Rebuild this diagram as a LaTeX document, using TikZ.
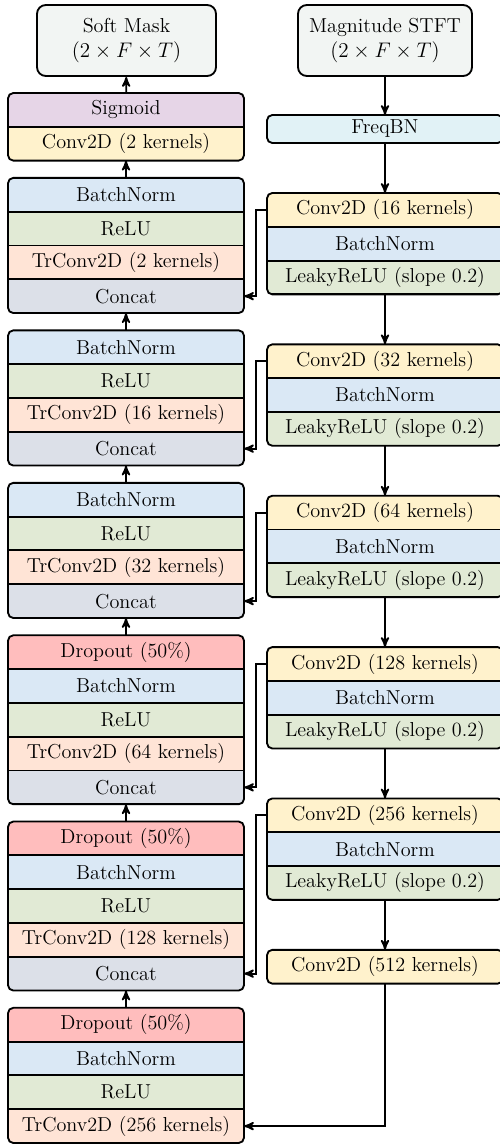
\documentclass[tikz,border=0pt]{standalone}
\usepackage{tikz}
\usetikzlibrary{arrows,positioning,fit,backgrounds}

\definecolor{maskgray}{HTML}{F2F5F3}
\definecolor{sigpurple}{HTML}{E6D5E7}
\definecolor{convyellow}{HTML}{FFF2CC}
\definecolor{bnblue}{HTML}{DAE8F5}
\definecolor{relugreen}{HTML}{E1EAD5}
\definecolor{trpeach}{HTML}{FFE4D6}
\definecolor{catgray}{HTML}{DCE0E8}
\definecolor{dropred}{HTML}{FFBDBD}
\definecolor{fbncyan}{HTML}{E1F2F6}

\begin{document}
\begin{tikzpicture}[x=0.02cm,y=-0.02cm,>=stealth',line width=1pt,
                    font=\fontsize{11.5}{14}\selectfont,node distance=0.346cm,
                    layerstack/.style={draw,line width=1.05pt,rounded corners=3pt,inner sep=0pt,
                      path picture={
                        \foreach \rw/\cl in {#1}
                          \fill[\cl,sharp corners] (\rw.north west) rectangle (\rw.south east);
                        \foreach \rw/\cl in {#1}
                          \draw[line width=1.05pt] (\rw.south west) -- (\rw.south east);}}]
\tikzstyle{row}=[minimum width=4.72cm,minimum height=0.676cm,inner sep=0pt,outer sep=0pt]
\tikzstyle{io}=[draw,line width=1.05pt,rounded corners=5pt,fill=maskgray,minimum height=1.42cm,
                align=center,inner sep=2pt]
\useasboundingbox (0,0) rectangle (500,1144);

% input / output
\node[io,minimum width=3.58cm] (mask) at (126.5,40.5) {Soft Mask\\$(2\times F\times T)$};
\node[io,minimum width=3.48cm] (mag) at (385,40.5) {Magnitude STFT\\$(2\times F\times T)$};

% decoder
\node[row] (d1a) at (126,109.9) {Sigmoid};
\node[row,below=0pt of d1a] (d1b) {Conv2D (2 kernels)};

\node[row,below=of d1b] (d2a) {BatchNorm};
\node[row,below=0pt of d2a] (d2b) {ReLU};
\node[row,below=0pt of d2b] (d2c) {TrConv2D (2 kernels)};
\node[row,below=0pt of d2c] (d2d) {Concat};

\node[row,below=of d2d] (d3a) {BatchNorm};
\node[row,below=0pt of d3a] (d3b) {ReLU};
\node[row,below=0pt of d3b] (d3c) {TrConv2D (16 kernels)};
\node[row,below=0pt of d3c] (d3d) {Concat};

\node[row,below=of d3d] (d4a) {BatchNorm};
\node[row,below=0pt of d4a] (d4b) {ReLU};
\node[row,below=0pt of d4b] (d4c) {TrConv2D (32 kernels)};
\node[row,below=0pt of d4c] (d4d) {Concat};

\node[row,below=of d4d] (d5a) {Dropout (50\%)};
\node[row,below=0pt of d5a] (d5b) {BatchNorm};
\node[row,below=0pt of d5b] (d5c) {ReLU};
\node[row,below=0pt of d5c] (d5d) {TrConv2D (64 kernels)};
\node[row,below=0pt of d5d] (d5e) {Concat};

\node[row,below=of d5e] (d6a) {Dropout (50\%)};
\node[row,below=0pt of d6a] (d6b) {BatchNorm};
\node[row,below=0pt of d6b] (d6c) {ReLU};
\node[row,below=0pt of d6c] (d6d) {TrConv2D (128 kernels)};
\node[row,below=0pt of d6d] (d6e) {Concat};

\node[row,below=of d6e] (d7a) {Dropout (50\%)};
\node[row,below=0pt of d7a] (d7b) {BatchNorm};
\node[row,below=0pt of d7b] (d7c) {ReLU};
\node[row,below=0pt of d7c] (d7d) {TrConv2D (256 kernels)};

% encoder
\node[row,minimum height=0.56cm] (fbn) at (385,129) {FreqBN};

\node[row,below=1cm of fbn] (e1a) {Conv2D (16 kernels)};
\node[row,below=0pt of e1a] (e1b) {BatchNorm};
\node[row,below=0pt of e1b] (e1c) {LeakyReLU (slope 0.2)};

\node[row,below=1cm of e1c] (e2a) {Conv2D (32 kernels)};
\node[row,below=0pt of e2a] (e2b) {BatchNorm};
\node[row,below=0pt of e2b] (e2c) {LeakyReLU (slope 0.2)};

\node[row,below=1cm of e2c] (e3a) {Conv2D (64 kernels)};
\node[row,below=0pt of e3a] (e3b) {BatchNorm};
\node[row,below=0pt of e3b] (e3c) {LeakyReLU (slope 0.2)};

\node[row,below=1cm of e3c] (e4a) {Conv2D (128 kernels)};
\node[row,below=0pt of e4a] (e4b) {BatchNorm};
\node[row,below=0pt of e4b] (e4c) {LeakyReLU (slope 0.2)};

\node[row,below=1cm of e4c] (e5a) {Conv2D (256 kernels)};
\node[row,below=0pt of e5a] (e5b) {BatchNorm};
\node[row,below=0pt of e5b] (e5c) {LeakyReLU (slope 0.2)};

\node[row,below=1cm of e5c] (e6) {Conv2D (512 kernels)};

% frames and fills
\begin{scope}[on background layer]
\node[layerstack={d1a/sigpurple,d1b/convyellow},fit=(d1a)(d1b)] (d1) {};
\node[layerstack={d2a/bnblue,d2b/relugreen,d2c/trpeach,d2d/catgray},fit=(d2a)(d2d)] (d2) {};
\node[layerstack={d3a/bnblue,d3b/relugreen,d3c/trpeach,d3d/catgray},fit=(d3a)(d3d)] (d3) {};
\node[layerstack={d4a/bnblue,d4b/relugreen,d4c/trpeach,d4d/catgray},fit=(d4a)(d4d)] (d4) {};
\node[layerstack={d5a/dropred,d5b/bnblue,d5c/relugreen,d5d/trpeach,d5e/catgray},fit=(d5a)(d5e)] (d5) {};
\node[layerstack={d6a/dropred,d6b/bnblue,d6c/relugreen,d6d/trpeach,d6e/catgray},fit=(d6a)(d6e)] (d6) {};
\node[layerstack={d7a/dropred,d7b/bnblue,d7c/relugreen,d7d/trpeach},fit=(d7a)(d7d)] (d7) {};
\node[layerstack={fbn/fbncyan},fit=(fbn)] (fbnbox) {};
\node[layerstack={e1a/convyellow,e1b/bnblue,e1c/relugreen},fit=(e1a)(e1c)] (e1) {};
\node[layerstack={e2a/convyellow,e2b/bnblue,e2c/relugreen},fit=(e2a)(e2c)] (e2) {};
\node[layerstack={e3a/convyellow,e3b/bnblue,e3c/relugreen},fit=(e3a)(e3c)] (e3) {};
\node[layerstack={e4a/convyellow,e4b/bnblue,e4c/relugreen},fit=(e4a)(e4c)] (e4) {};
\node[layerstack={e5a/convyellow,e5b/bnblue,e5c/relugreen},fit=(e5a)(e5c)] (e5) {};
\node[layerstack={e6/convyellow},fit=(e6)] (e6box) {};
\end{scope}

% data flow
\draw[->] (mag) -- (fbn);
\draw[->] (fbn) -- (e1a);
\draw[->] (e1c) -- (e2a);
\draw[->] (e2c) -- (e3a);
\draw[->] (e3c) -- (e4a);
\draw[->] (e4c) -- (e5a);
\draw[->] (e5c) -- (e6);

\draw[->] (d7a) -- (d6e);
\draw[->] (d6a) -- (d5e);
\draw[->] (d5a) -- (d4d);
\draw[->] (d4a) -- (d3d);
\draw[->] (d3a) -- (d2d);
\draw[->] (d2a) -- (d1b);
\draw[->] (d1a) -- (mask);

% skip connections
\draw[->] (e1a.west) -- ++(-11,0) |- (d2d.east);
\draw[->] (e2a.west) -- ++(-11,0) |- (d3d.east);
\draw[->] (e3a.west) -- ++(-11,0) |- (d4d.east);
\draw[->] (e4a.west) -- ++(-11,0) |- (d5e.east);
\draw[->] (e5a.west) -- ++(-11,0) |- (d6e.east);
\draw[->] (e6.south) |- (d7d.east);
\end{tikzpicture}
\end{document}
